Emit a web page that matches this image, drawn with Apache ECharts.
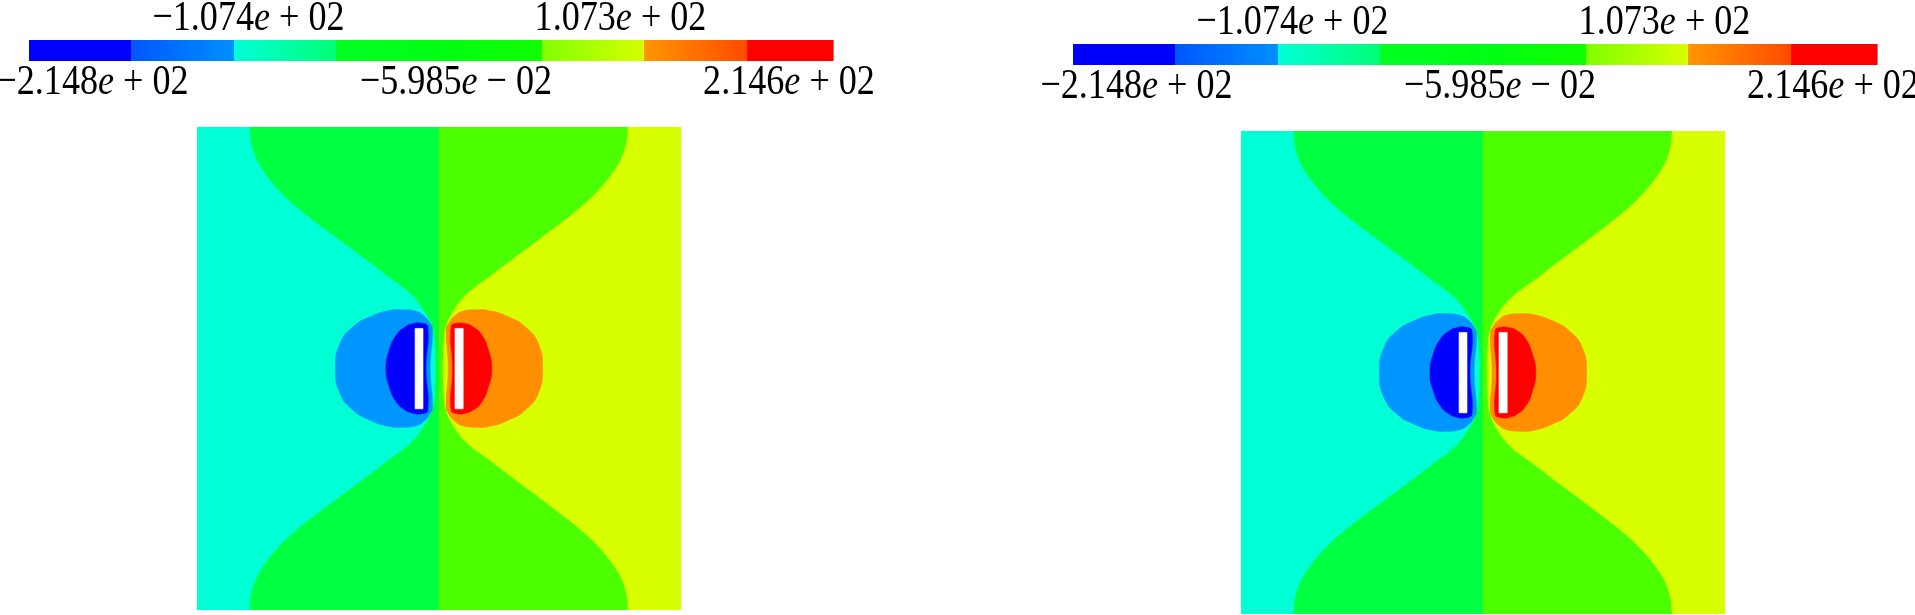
<!DOCTYPE html>
<html>
<head>
<meta charset="utf-8">
<title>potential</title>
<script src="https://cdn.jsdelivr.net/npm/echarts@6/dist/echarts.min.js"></script>
<style>
html, body { margin: 0; padding: 0; background: #fff; }
#main { width: 1915px; height: 615px; }
</style>
</head>
<body>
<div id="main"></div>
<script>
// colour bar: level edges and the colour at each end of every band
const barLevels = [-214.8, -160.3, -105.3, -50.8, 4.2, 59.2, 113.7, 168.7, 214.6];
const barStart = ['#0000ff', '#0056ff', '#00ffd8', '#00ff22', '#00ff14', '#80ff00', '#ff9600', '#ff0000'];
const barEnd = ['#0000ff', '#0090ff', '#00ff76', '#00ff14', '#10ff00', '#d8ff00', '#ff4a00', '#ff0000'];
const tickLabels = ['−2.148e+02', '−1.074e+02', '−5.985e−02', '1.073e+02', '2.146e+02'];

// contour edges, domain scaled to -1..1 (x: across, y: up)
const cyanGreenEdge = [[-0.784, 1.0], [-0.777, 0.931], [-0.753, 0.862], [-0.709, 0.793], [-0.650, 0.724],
  [-0.574, 0.655], [-0.485, 0.586], [-0.392, 0.517], [-0.299, 0.448], [-0.209, 0.379], [-0.120, 0.311],
  [-0.065, 0.242], [-0.030, 0.173], [-0.019, 0.104], [-0.015, 0.0], [-0.019, -0.104], [-0.030, -0.173],
  [-0.065, -0.242], [-0.120, -0.311], [-0.209, -0.379], [-0.299, -0.448], [-0.392, -0.517], [-0.485, -0.586],
  [-0.574, -0.655], [-0.650, -0.724], [-0.709, -0.793], [-0.753, -0.862], [-0.777, -0.931], [-0.784, -1.0]];
const greenYellowEdge = [[0.782, 1.0], [0.775, 0.931], [0.751, 0.862], [0.706, 0.793], [0.647, 0.724],
  [0.571, 0.655], [0.483, 0.586], [0.392, 0.517], [0.299, 0.448], [0.209, 0.379], [0.118, 0.311],
  [0.062, 0.242], [0.030, 0.173], [0.021, 0.104], [0.018, 0.0], [0.021, -0.104], [0.030, -0.173],
  [0.062, -0.242], [0.118, -0.311], [0.209, -0.379], [0.299, -0.448], [0.392, -0.517], [0.483, -0.586],
  [0.571, -0.655], [0.647, -0.724], [0.706, -0.793], [0.751, -0.862], [0.775, -0.931], [0.782, -1.0]];
const lightBlueBlob = [[-0.027, 0.159], [-0.037, 0.187], [-0.065, 0.221], [-0.100, 0.238], [-0.150, 0.243],
  [-0.205, 0.240], [-0.285, 0.214], [-0.355, 0.173], [-0.409, 0.104], [-0.428, 0.0],
  [-0.409, -0.104], [-0.355, -0.173], [-0.285, -0.214], [-0.205, -0.240], [-0.150, -0.243],
  [-0.100, -0.238], [-0.065, -0.221], [-0.037, -0.187], [-0.027, -0.159], [-0.036, 0.0]];
const blueBlob = [[-0.046, 0.172], [-0.072, 0.187], [-0.108, 0.185], [-0.140, 0.172], [-0.175, 0.140],
  [-0.204, 0.080], [-0.219, 0.0], [-0.204, -0.080], [-0.175, -0.140],
  [-0.140, -0.172], [-0.108, -0.185], [-0.072, -0.187], [-0.046, -0.172], [-0.054, 0.0]];
const orangeBlob = [[0.030, 0.159], [0.040, 0.187], [0.068, 0.221], [0.102, 0.238], [0.152, 0.243],
  [0.207, 0.240], [0.287, 0.214], [0.356, 0.173], [0.410, 0.104], [0.428, 0.0],
  [0.410, -0.104], [0.356, -0.173], [0.287, -0.214], [0.207, -0.240], [0.152, -0.243],
  [0.102, -0.238], [0.068, -0.221], [0.040, -0.187], [0.030, -0.159], [0.038, 0.0]];
const redBlob = [[0.050, 0.172], [0.075, 0.187], [0.110, 0.185], [0.142, 0.172], [0.176, 0.140],
  [0.203, 0.080], [0.218, 0.0], [0.203, -0.080], [0.176, -0.140],
  [0.142, -0.172], [0.110, -0.185], [0.075, -0.187], [0.050, -0.172], [0.056, 0.0]];
// plates: [x0, x1, y0, y1]
const plates = [[-0.099, -0.066, -0.167, 0.166], [0.066, 0.100, -0.167, 0.166]];

const chart = echarts.init(document.getElementById('main'), null, {renderer: 'canvas'});

// layout
const barBoxes = [{left: 29, top: 40}, {left: 1073, top: 44}];
const barW = 804, barH = 21;
const plotBoxes = [{left: 197, top: 127}, {left: 1241, top: 131}];
const plotW = 484, plotH = 483;
const labelOffsets = [63.5, 219.5, 427, 591.5, 760];
const labelBelow = [true, false, true, false, true];

function rect(x0, x1, y0, y1) {
  return [[x0, y0], [x1, y0], [x1, y1], [x0, y1]];
}

const regions = [
  {pts: rect(-1, 0, -1, 1), color: '#00ff40', smooth: 0},
  {pts: rect(0, 1, -1, 1), color: '#4cff00', smooth: 0},
  {pts: [[-1.2, 1.2], [-0.79, 1.2]].concat(cyanGreenEdge, [[-0.79, -1.2], [-1.2, -1.2]]), color: '#00ffd4', smooth: 0.35},
  {pts: [[1.2, 1.2], [0.79, 1.2]].concat(greenYellowEdge, [[0.79, -1.2], [1.2, -1.2]]), color: '#d8ff00', smooth: 0.35},
  {pts: lightBlueBlob, color: '#0096ff', smooth: 0.5},
  {pts: blueBlob, color: '#0000ff', smooth: 0.5},
  {pts: orangeBlob, color: '#ff8e00', smooth: 0.5},
  {pts: redBlob, color: '#ff0000', smooth: 0.5},
  {pts: rect(plates[0][0], plates[0][1], plates[0][2], plates[0][3]), color: '#ffffff', smooth: 0},
  {pts: rect(plates[1][0], plates[1][1], plates[1][2], plates[1][3]), color: '#ffffff', smooth: 0}
];

function renderRegion(params, api) {
  const r = regions[params.dataIndex];
  const cs = params.coordSys;
  return {
    type: 'group',
    clipPath: {type: 'rect', shape: {x: cs.x, y: cs.y, width: cs.width, height: cs.height}},
    children: [{
      type: 'polygon',
      shape: {points: r.pts.map(p => api.coord(p)), smooth: r.smooth},
      style: {fill: r.color, stroke: r.color, lineWidth: 0.6}
    }]
  };
}

function renderBand(params, api) {
  const i = params.dataIndex;
  const a = api.coord([api.value(0), 0]);
  const b = api.coord([api.value(1), 1]);
  return {
    type: 'rect',
    shape: {x: a[0], y: b[1], width: b[0] - a[0] + 0.6, height: a[1] - b[1]},
    style: {
      fill: new echarts.graphic.LinearGradient(0, 0, 1, 0, [
        {offset: 0, color: barStart[i]},
        {offset: 1, color: barEnd[i]}
      ])
    }
  };
}

function richLabel(s) {
  const parts = s.split('e');
  const sign = parts[1][0] === '−' ? '−' : '+';
  return '{n|' + parts[0] + '}{i|e}{n| ' + sign + ' ' + parts[1].slice(1) + '}';
}

const font = '"Liberation Serif", "DejaVu Serif", serif';
const rich = {
  n: {fontFamily: font, fontSize: 43, fill: '#000'},
  i: {fontFamily: font, fontSize: 43, fontStyle: 'italic', fill: '#000'}
};

const grids = [], xAxes = [], yAxes = [], series = [], graphics = [];
barBoxes.forEach((b, k) => {
  grids.push({left: b.left, top: b.top, width: barW, height: barH});
  xAxes.push({type: 'value', gridIndex: k, min: barLevels[0], max: barLevels[barLevels.length - 1], show: false});
  yAxes.push({type: 'value', gridIndex: k, min: 0, max: 1, show: false});
  series.push({
    type: 'custom', xAxisIndex: k, yAxisIndex: k,
    renderItem: renderBand,
    data: barStart.map((c, i) => [barLevels[i], barLevels[i + 1]]),
    silent: true
  });
  tickLabels.forEach((t, i) => {
    graphics.push({
      type: 'text',
      x: b.left + labelOffsets[i],
      y: labelBelow[i] ? b.top + 43 : b.top - 21,
      scaleX: 0.84,
      style: {text: richLabel(t), rich: rich, align: 'center', verticalAlign: 'middle', fill: '#000'}
    });
  });
});
plotBoxes.forEach((p, k) => {
  const g = k + 2;
  grids.push({left: p.left, top: p.top, width: plotW, height: plotH});
  xAxes.push({type: 'value', gridIndex: g, min: -1, max: 1, show: false});
  yAxes.push({type: 'value', gridIndex: g, min: -1, max: 1, show: false});
  series.push({
    type: 'custom', xAxisIndex: g, yAxisIndex: g,
    renderItem: renderRegion,
    data: regions.map((r, i) => [0, 0]),
    silent: true
  });
});

chart.setOption({
  backgroundColor: '#fff',
  animation: false,
  grid: grids,
  xAxis: xAxes,
  yAxis: yAxes,
  series: series,
  graphic: graphics
});
</script>
</body>
</html>
